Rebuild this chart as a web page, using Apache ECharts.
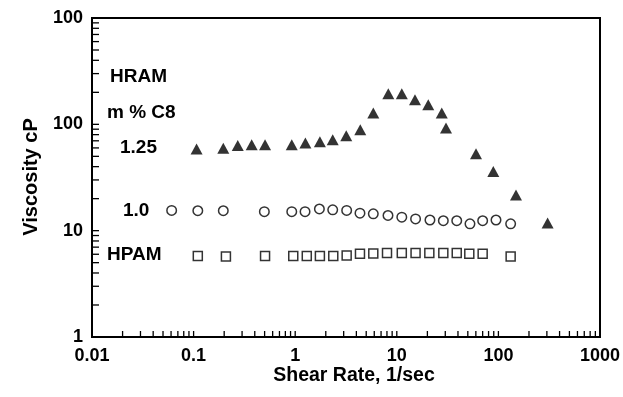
<!DOCTYPE html>
<html>
<head>
<meta charset="utf-8">
<script src="https://cdn.jsdelivr.net/npm/echarts@6/dist/echarts.min.js"></script>
<style>
  html, body { margin: 0; padding: 0; background: #fff; }
  #chart { width: 623px; height: 397px; }
</style>
</head>
<body>
<div id="chart"></div>
<script>
// Viscosity vs shear rate for HRAM (1.25 and 1.0 m % C8) and HPAM solutions

// HRAM, 1.25 m % C8 (filled triangles)
const hram125Shear = [0.107, 0.196, 0.272, 0.373, 0.505, 0.925, 1.26, 1.75, 2.34, 3.18, 4.37, 5.87, 8.25, 11.2, 15.1, 20.4, 27.7, 30.5, 60.2, 89.1, 149, 305];
const hram125Visc  = [58.5, 59.6, 63.3, 64.3, 64.3, 64.3, 66.7, 68.6, 71.6, 78.1, 89.0, 127.7, 194, 194, 170.5, 153, 127.7, 92.3, 52.9, 36.0, 21.7, 11.8];

// HRAM, 1.0 m % C8 (open circles)
const hram10Shear = [0.0608, 0.110, 0.196, 0.497, 0.925, 1.25, 1.73, 2.34, 3.21, 4.34, 5.87, 8.19, 11.2, 15.3, 21.2, 28.7, 38.9, 52.5, 70.0, 94.7, 132];
const hram10Visc  = [15.5, 15.4, 15.4, 15.1, 15.1, 15.1, 16.0, 15.7, 15.5, 14.6, 14.4, 13.9, 13.4, 12.9, 12.6, 12.4, 12.4, 11.6, 12.4, 12.6, 11.6];

// HPAM (open squares)
const hpamShear = [0.110, 0.208, 0.505, 0.957, 1.30, 1.75, 2.37, 3.21, 4.34, 5.87, 8.01, 11.2, 15.3, 20.9, 28.7, 38.9, 51.7, 70.0, 132];
const hpamVisc  = [5.79, 5.73, 5.79, 5.79, 5.79, 5.79, 5.79, 5.85, 6.05, 6.11, 6.18, 6.18, 6.18, 6.18, 6.18, 6.18, 6.05, 6.05, 5.73];

// Axis tick labels, one per decade
const xTickLabels = ['0.01', '0.1', '1', '10', '100', '1000'];
const yTickLabels = ['1', '10', '100', '100'];

const FONT = '"Liberation Sans", Arial, Helvetica, sans-serif';

// Small tick marks at 2..10 within each decade (drawn inside the frame)
function decadeTicks(firstExp, lastExp) {
  const out = [];
  for (let k = firstExp; k < lastExp; k++) {
    for (let m = 2; m <= 10; m++) {
      const v = m * Math.pow(10, k);
      if (k === lastExp - 1 && m === 10) continue;
      out.push(v);
    }
  }
  return out;
}
const xTicks = decadeTicks(-2, 3);
const yTicks = decadeTicks(0, 3);

const pairs = (xs, ys) => xs.map((x, i) => [x, ys[i]]);

const chart = echarts.init(document.getElementById('chart'), null, { renderer: 'canvas' });

chart.setOption({
  animation: false,
  backgroundColor: '#ffffff',
  grid: {
    left: 92, right: 23, top: 18, bottom: 60,
    containLabel: false,
    outerBoundsMode: 'none',
    show: true,
    borderColor: '#000',
    borderWidth: 2,
    backgroundColor: 'transparent'
  },
  xAxis: {
    type: 'log',
    logBase: 10,
    min: 0.01,
    max: 1000,
    axisLine: { show: true, onZero: false, lineStyle: { color: '#000', width: 2 } },
    axisTick: { show: false },
    minorTick: { show: false },
    splitLine: { show: false },
    axisLabel: {
      interval: 0,
      margin: 10,
      color: '#000',
      fontFamily: FONT,
      fontWeight: 'bold',
      fontSize: 18,
      formatter: (v, i) => xTickLabels[i]
    }
  },
  yAxis: {
    type: 'log',
    logBase: 10,
    min: 1,
    max: 1000,
    axisLine: { show: true, onZero: false, lineStyle: { color: '#000', width: 2 } },
    axisTick: { show: false },
    minorTick: { show: false },
    splitLine: { show: false },
    axisLabel: {
      interval: 0,
      margin: 9,
      color: '#000',
      fontFamily: FONT,
      fontWeight: 'bold',
      fontSize: 18,
      formatter: (v, i) => yTickLabels[i]
    }
  },
  series: [
    {
      type: 'custom',
      silent: true,
      data: xTicks.map(v => [v, 1]),
      renderItem: (params, api) => {
        const p = api.coord([api.value(0), api.value(1)]);
        return { type: 'line', shape: { x1: p[0], y1: p[1], x2: p[0], y2: p[1] - 6 },
                 style: { stroke: '#000', lineWidth: 1.3 } };
      }
    },
    {
      type: 'custom',
      silent: true,
      data: yTicks.map(v => [0.01, v]),
      renderItem: (params, api) => {
        const p = api.coord([api.value(0), api.value(1)]);
        return { type: 'line', shape: { x1: p[0], y1: p[1], x2: p[0] + 7, y2: p[1] },
                 style: { stroke: '#000', lineWidth: 1.3 } };
      }
    },
    {
      name: '1.25',
      type: 'scatter',
      symbol: 'triangle',
      symbolSize: [12, 11],
      itemStyle: { color: '#000' },
      data: pairs(hram125Shear, hram125Visc)
    },
    {
      name: '1.0',
      type: 'scatter',
      symbol: 'circle',
      symbolSize: 9.5,
      itemStyle: { color: '#fff', borderColor: '#000', borderWidth: 1.5 },
      data: pairs(hram10Shear, hram10Visc)
    },
    {
      name: 'HPAM',
      type: 'scatter',
      symbol: 'rect',
      symbolSize: 9,
      itemStyle: { color: '#fff', borderColor: '#000', borderWidth: 1.5 },
      data: pairs(hpamShear, hpamVisc)
    }
  ],
  graphic: [
    { type: 'text', left: 110, top: 67, style: { text: 'HRAM', font: 'bold 19px ' + FONT, fill: '#000' } },
    { type: 'text', left: 107, top: 103, style: { text: 'm % C8', font: 'bold 19px ' + FONT, fill: '#000' } },
    { type: 'text', left: 120, top: 138, style: { text: '1.25', font: 'bold 19px ' + FONT, fill: '#000' } },
    { type: 'text', left: 123, top: 201, style: { text: '1.0', font: 'bold 19px ' + FONT, fill: '#000' } },
    { type: 'text', left: 107, top: 245, style: { text: 'HPAM', font: 'bold 19px ' + FONT, fill: '#000' } },
    { type: 'text', x: 354, y: 376, style: { text: 'Shear Rate, 1/sec', font: 'bold 19.5px ' + FONT, fill: '#000', align: 'center', verticalAlign: 'middle' } },
    { type: 'text', x: 31, y: 177, rotation: Math.PI / 2, style: { text: 'Viscosity cP', font: 'bold 20px ' + FONT, fill: '#000', align: 'center', verticalAlign: 'middle' } }
  ]
});
</script>
</body>
</html>
